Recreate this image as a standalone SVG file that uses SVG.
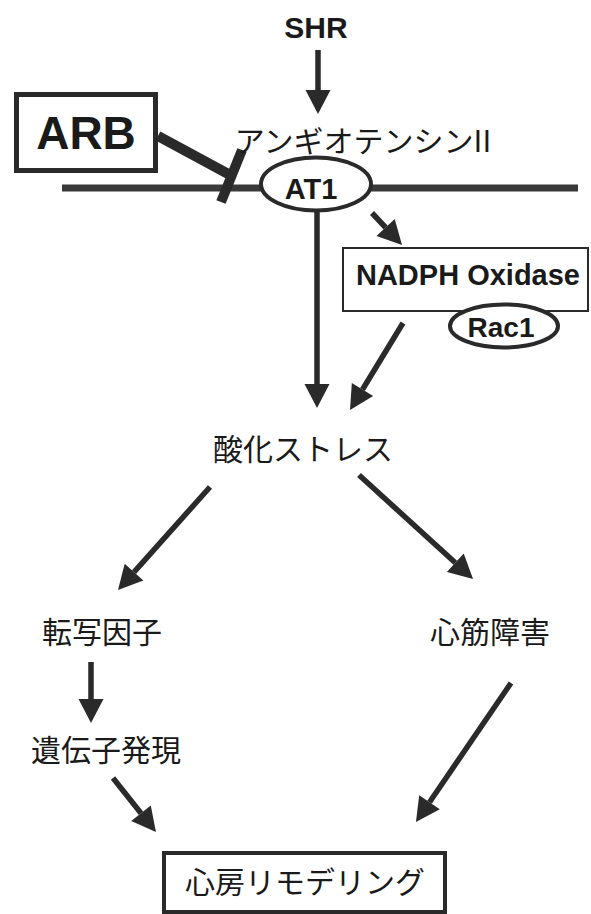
<svg xmlns="http://www.w3.org/2000/svg" width="591" height="914" viewBox="0 0 591 914">
<style>
.lat{font-family:"Liberation Sans",Arial,sans-serif;font-weight:bold;fill:#1a1a1a;text-anchor:middle}
.jp{font-family:"Noto Sans CJK JP","Noto Sans CJK SC",sans-serif;fill:#1a1a1a;text-anchor:middle;font-size:30px}
.arr{stroke:#2a2a2a;stroke-width:5.5;fill:none;marker-end:url(#ah)}
.bar{stroke:#2a2a2a;fill:none;stroke-width:10}
</style>
<defs>
<marker id="ah" markerUnits="userSpaceOnUse" markerWidth="26" markerHeight="27" refX="0" refY="12.5" orient="auto" viewBox="0 0 26 25" overflow="visible">
<path d="M0,0 L24,12.5 L0,25 z" fill="#2a2a2a"/>
</marker>
</defs>
<rect width="591" height="914" fill="#fff"/>
<g id="membrane">
<line x1="62" y1="188" x2="578" y2="188" stroke="#3a3a3a" stroke-width="7"/>
</g>
<g id="connectors">
<line class="arr" x1="318" y1="50" x2="318" y2="90"/>
<line class="arr" x1="317" y1="212" x2="317" y2="384"/>
<line class="arr" x1="372" y1="213" x2="385.6" y2="227.5"/>
<line class="arr" x1="403" y1="323" x2="362.5" y2="389.5"/>
<line class="arr" x1="210" y1="487" x2="134" y2="572.1"/>
<line class="arr" x1="359" y1="475" x2="455.3" y2="562.8"/>
<line class="arr" x1="91" y1="662" x2="91" y2="699"/>
<line class="arr" x1="113" y1="778" x2="141" y2="813.2"/>
<line class="arr" x1="511" y1="683" x2="429.5" y2="802.2"/>
<line class="bar" x1="158" y1="136" x2="232" y2="176"/>
<line class="bar" x1="242" y1="150" x2="221" y2="202"/>
</g>
<g id="shr"><text class="lat" x="316" y="38" font-size="30">SHR</text></g>
<g id="arb">
<rect x="16.5" y="94.5" width="139" height="76" fill="#fff" stroke="#2a2a2a" stroke-width="5"/>
<text class="lat" x="86" y="149" font-size="46">ARB</text>
</g>
<g id="angiotensin"><text class="jp" x="363" y="152">アンギオテンシンII</text></g>
<g id="at1">
<ellipse cx="316" cy="184" rx="55" ry="26.5" fill="#fff" stroke="#2a2a2a" stroke-width="4"/>
<text class="lat" x="311" y="199" font-size="29">AT1</text>
</g>
<g id="nadph">
<rect x="343" y="248" width="245" height="63" fill="#fff" stroke="#2a2a2a" stroke-width="2"/>
<text class="lat" x="468" y="285" font-size="29">NADPH Oxidase</text>
</g>
<g id="rac1">
<ellipse cx="504" cy="326" rx="54" ry="21.5" fill="#fff" stroke="#2a2a2a" stroke-width="4"/>
<text class="lat" x="501" y="337" font-size="28">Rac1</text>
</g>
<g id="oxstress"><text class="jp" x="303" y="460">酸化ストレス</text></g>
<g id="tf"><text class="jp" x="102" y="643">転写因子</text></g>
<g id="myo"><text class="jp" x="490" y="643">心筋障害</text></g>
<g id="gene"><text class="jp" x="106" y="761">遺伝子発現</text></g>
<g id="remodel">
<rect x="164" y="853" width="281" height="59" fill="#fff" stroke="#2a2a2a" stroke-width="4"/>
<text class="jp" x="305" y="893">心房リモデリング</text>
</g>
</svg>
